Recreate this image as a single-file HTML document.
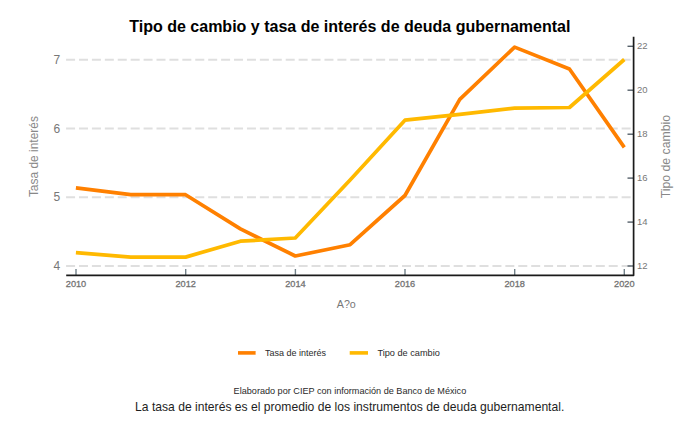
<!DOCTYPE html>
<html><head><meta charset="utf-8">
<style>
html,body{margin:0;padding:0;background:#fff;width:700px;height:430px;overflow:hidden}
svg{display:block}
text{font-family:"Liberation Sans",sans-serif}
</style></head><body>
<svg width="700" height="430" viewBox="0 0 700 430">
<rect width="700" height="430" fill="#fff"/>
<!-- title -->
<text x="129.2" y="31.7" font-size="16.3" font-weight="bold" fill="#000" textLength="441.3" lengthAdjust="spacingAndGlyphs">Tipo de cambio y tasa de interés de deuda gubernamental</text>
<!-- gridlines -->
<g stroke="#dfdfdf" stroke-width="2" stroke-dasharray="9 3.92" fill="none">
<line x1="66.07" y1="59.8" x2="633" y2="59.8"/>
<line x1="66.07" y1="128.5" x2="633" y2="128.5"/>
<line x1="66.07" y1="197.2" x2="633" y2="197.2"/>
<line x1="66.07" y1="265.9" x2="633" y2="265.9"/>
</g>
<!-- x ticks -->
<g stroke="#73828a" stroke-width="1.4">
<line x1="76" y1="269" x2="76" y2="275"/>
<line x1="185.7" y1="269" x2="185.7" y2="275"/>
<line x1="295.4" y1="269" x2="295.4" y2="275"/>
<line x1="405" y1="269" x2="405" y2="275"/>
<line x1="514.7" y1="269" x2="514.7" y2="275"/>
<line x1="624.3" y1="269" x2="624.3" y2="275"/>
</g>
<!-- right ticks -->
<g stroke="#55606a" stroke-width="1.4">
<line x1="627.5" y1="46.3" x2="633.5" y2="46.3"/>
<line x1="627.5" y1="90.2" x2="633.5" y2="90.2"/>
<line x1="627.5" y1="134.2" x2="633.5" y2="134.2"/>
<line x1="627.5" y1="178.1" x2="633.5" y2="178.1"/>
<line x1="627.5" y1="222.1" x2="633.5" y2="222.1"/>
<line x1="627.5" y1="266" x2="633.5" y2="266"/>
</g>
<!-- series -->
<polyline fill="none" stroke="#ff8000" stroke-width="3.7" stroke-linejoin="round" points="75.90,187.8 130.74,194.7 185.58,194.7 240.42,228.9 295.26,256.0 350.10,244.7 404.94,195.5 459.78,99.4 514.62,47.1 569.46,69.0 624.30,147.4"/>
<polyline fill="none" stroke="#ffb900" stroke-width="3.7" stroke-linejoin="round" points="75.90,252.7 130.74,257.1 185.58,257.1 240.42,241.2 295.26,238.0 350.10,180.0 404.94,120.2 459.78,114.3 514.62,108.2 569.46,107.5 624.30,59.5"/>
<!-- axes -->
<path d="M66.2,275.3 H633.6 V36.8" fill="none" stroke="#1a1a1a" stroke-width="1.7" stroke-linejoin="round"/>
<!-- left labels -->
<g font-size="12" fill="#777" text-anchor="end">
<text x="60.3" y="63.8">7</text>
<text x="60.3" y="132.5">6</text>
<text x="60.3" y="201.2">5</text>
<text x="60.3" y="269.9">4</text>
</g>
<!-- right labels -->
<g font-size="9.5" fill="#777">
<text x="637" y="49.3">22</text>
<text x="637" y="93.2">20</text>
<text x="637" y="137.2">18</text>
<text x="637" y="181.1">16</text>
<text x="637" y="225.1">14</text>
<text x="637" y="269">12</text>
</g>
<!-- x labels -->
<g font-size="9.2" fill="#737373" stroke="#737373" stroke-width="0.3" text-anchor="middle">
<text x="76" y="286.7">2010</text>
<text x="185.7" y="286.7">2012</text>
<text x="295.4" y="286.7">2014</text>
<text x="405" y="286.7">2016</text>
<text x="514.7" y="286.7">2018</text>
<text x="624.3" y="286.7">2020</text>
</g>
<!-- axis titles -->
<text x="346.3" y="307.9" font-size="11.4" fill="#777" text-anchor="middle" textLength="19" lengthAdjust="spacingAndGlyphs">A?o</text>
<text transform="translate(38.2,156.6) rotate(-90)" font-size="12" fill="#888" text-anchor="middle" textLength="81" lengthAdjust="spacingAndGlyphs">Tasa de interés</text>
<text transform="translate(670,156.6) rotate(-90)" font-size="12" fill="#888" text-anchor="middle" textLength="83.5" lengthAdjust="spacingAndGlyphs">Tipo de cambio</text>
<!-- legend -->
<line x1="238" y1="352.9" x2="255.6" y2="352.9" stroke="#ff8000" stroke-width="3.6"/>
<line x1="349.7" y1="352.9" x2="368" y2="352.9" stroke="#ffb900" stroke-width="3.6"/>
<g font-size="9.8" fill="#2a2a2a">
<text x="264.9" y="356" textLength="61" lengthAdjust="spacingAndGlyphs">Tasa de interés</text>
<text x="377.4" y="356" textLength="62.4" lengthAdjust="spacingAndGlyphs">Tipo de cambio</text>
</g>
<!-- captions -->
<text x="233.6" y="393.8" font-size="9.6" fill="#2a2a2a" textLength="232.6" lengthAdjust="spacingAndGlyphs">Elaborado por CIEP con información de Banco de México</text>
<text x="135.1" y="410.5" font-size="12.2" fill="#1e1e1e" textLength="429.2" lengthAdjust="spacingAndGlyphs">La tasa de interés es el promedio de los instrumentos de deuda gubernamental.</text>
</svg>
</body></html>
